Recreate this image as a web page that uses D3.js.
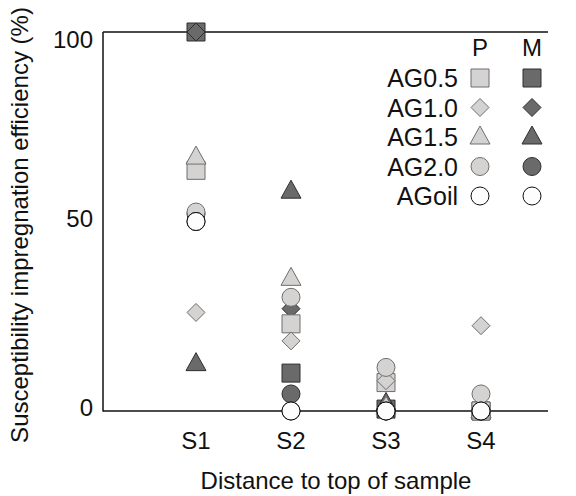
<!DOCTYPE html>
<html>
<head>
<meta charset="utf-8">
<script src="https://cdn.jsdelivr.net/npm/d3@7"></script>
<style>
  body { margin: 0; background: #fff; }
  text { font-family: "Liberation Sans", Arial, sans-serif; fill: #111; }
</style>
</head>
<body>
<div id="chart"></div>
<script>
// Data
const categories = ["S1", "S2", "S3", "S4"];
const seriesNames = ["AG0.5", "AG1.0", "AG1.5", "AG2.0", "AGoil"];
const shapes = ["square", "diamond", "triangle", "circle", "circle"];

// P (light) series
const pAG05 = [63.5, 23, 7.5, 0];
const pAG10 = [26, 18.5, 8, 22.5];
const pAG15 = [67, 35, 1, 0];
const pAG20 = [52.5, 30, 11.5, 4.5];
const pAGoil = [50, 0, 0, 0];

// M (dark) series
const mAG05 = [100, 10, 0.5, 0];
const mAG10 = [100, 27, 0, 0];
const mAG15 = [12.5, 58, 2, 0];
const mAG20 = [52, 4.5, 0, 0];
const mAGoil = [50, 0, 0, 0];

const yTicks = [0, 50, 100];

const W = 576, H = 496;
const plot = { left: 103, right: 548, top: 32, bottom: 411 };
const fs = 24;

const svg = d3.select("#chart").append("svg")
  .attr("width", W).attr("height", H);

const x = d3.scalePoint().domain(categories).range([196, 481]);
const y = d3.scaleLinear().domain([0, 100]).range([plot.bottom, plot.top]);

const styles = {
  P: { fill: "#d5d2d2", stroke: "#6e6e6e" },
  M: { fill: "#6a6a6a", stroke: "#2e2e2e" },
  oil: { fill: "#fdfdfd", stroke: "#111" }
};

function shapePath(shape) {
  if (shape === "square") return "M-9,-9H9V9H-9Z";
  if (shape === "diamond") return "M0,-9L9,0L0,9L-9,0Z";
  if (shape === "triangle") return "M0,-11L10,7H-10Z";
  return d3.symbol(d3.symbolCircle, Math.PI * 81)();
}

// frame
const axisG = svg.append("g").attr("stroke", "#111").attr("stroke-width", 1.5);
axisG.append("line").attr("x1", plot.left).attr("x2", plot.left).attr("y1", plot.top).attr("y2", plot.bottom + 0.5);
axisG.append("line").attr("x1", plot.left).attr("x2", plot.right).attr("y1", plot.top).attr("y2", plot.top);
axisG.append("line").attr("x1", plot.left).attr("x2", plot.right).attr("y1", plot.bottom).attr("y2", plot.bottom);

// y tick labels (top label sits a little below the frame line, as in the original)
svg.append("g").selectAll("text").data(yTicks).join("text")
  .attr("x", 93).attr("y", d => y(d) + (d === 100 ? 8 : -3))
  .attr("dy", "0.35em")
  .attr("text-anchor", "end")
  .attr("font-size", fs)
  .text(d => d);

// x tick labels
svg.append("g").selectAll("text").data(categories).join("text")
  .attr("x", d => x(d)).attr("y", 449)
  .attr("text-anchor", "middle")
  .attr("font-size", fs)
  .text(d => d);

// axis titles
svg.append("text")
  .attr("x", 336).attr("y", 489)
  .attr("text-anchor", "middle").attr("font-size", fs)
  .text("Distance to top of sample");

svg.append("text")
  .attr("transform", "translate(28,225) rotate(-90)")
  .attr("text-anchor", "middle").attr("font-size", fs)
  .text("Susceptibility impregnation efficiency (%)");

// build series list; draw order: M, then P, then AGoil
const pVals = [pAG05, pAG10, pAG15, pAG20, pAGoil];
const mVals = [mAG05, mAG10, mAG15, mAG20, mAGoil];
const series = [];
seriesNames.forEach((n, i) => {
  if (n === "AGoil") return;
  series.push({ name: n, group: "M", shape: shapes[i], values: mVals[i] });
});
seriesNames.forEach((n, i) => {
  if (n === "AGoil") return;
  series.push({ name: n, group: "P", shape: shapes[i], values: pVals[i] });
});
series.push({ name: "AGoil", group: "oil", shape: "circle", values: mAGoil });
series.push({ name: "AGoil", group: "oil", shape: "circle", values: pAGoil });

const marks = svg.append("g");
series.forEach(s => {
  marks.append("g").selectAll("path")
    .data(s.values.map((v, i) => ({ cat: categories[i], v })))
    .join("path")
    .attr("transform", d => `translate(${x(d.cat)},${y(d.v)})`)
    .attr("d", shapePath(s.shape))
    .attr("fill", styles[s.group].fill)
    .attr("stroke", styles[s.group].stroke)
    .attr("stroke-width", 1);
});

// legend
const legend = svg.append("g");
const colP = 480, colM = 532, row0 = 78, rowStep = 29.5;
legend.append("text").attr("x", colP).attr("y", 56).attr("text-anchor", "middle").attr("font-size", fs).text("P");
legend.append("text").attr("x", colM).attr("y", 56).attr("text-anchor", "middle").attr("font-size", fs).text("M");
seriesNames.forEach((n, i) => {
  const yy = row0 + i * rowStep;
  legend.append("text").attr("x", 458).attr("y", yy).attr("dy", "0.36em")
    .attr("text-anchor", "end").attr("font-size", fs + 1).text(n);
  const pg = n === "AGoil" ? "oil" : "P";
  const mg = n === "AGoil" ? "oil" : "M";
  legend.append("path").attr("transform", `translate(${colP},${yy})`)
    .attr("d", shapePath(shapes[i]))
    .attr("fill", styles[pg].fill).attr("stroke", styles[pg].stroke);
  legend.append("path").attr("transform", `translate(${colM},${yy})`)
    .attr("d", shapePath(shapes[i]))
    .attr("fill", styles[mg].fill).attr("stroke", styles[mg].stroke);
});
</script>
</body>
</html>
